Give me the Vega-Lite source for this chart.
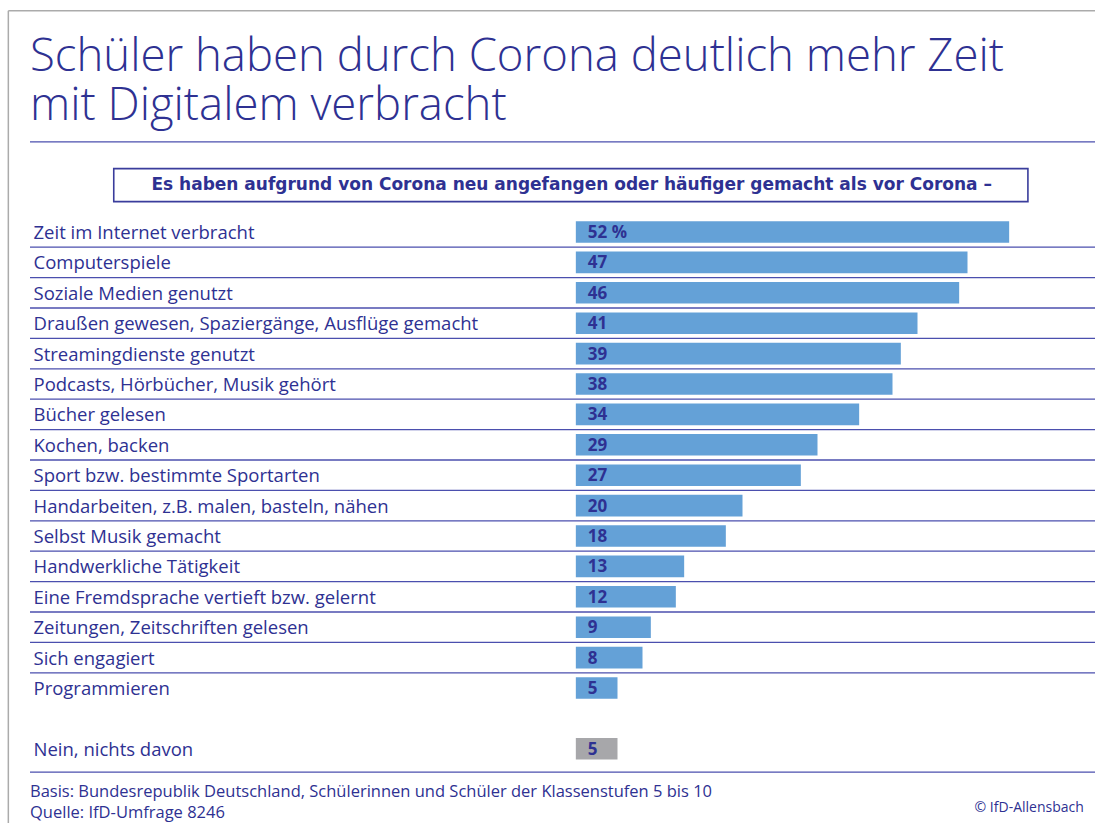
{
  "$schema": "https://vega.github.io/schema/vega-lite/v6.json",
  "width": 1065,
  "height": 668.8,
  "autosize": {"type": "none"},
  "padding": {"left": 30, "top": 125.6, "right": 0, "bottom": 28.6},
  "background": "white",
  "config": {"view": {"stroke": null}},
  "datasets": {
    "rows": [
      {"item": "Zeit im Internet verbracht", "value": 52, "label": "52 %", "group": "yes"},
      {"item": "Computerspiele", "value": 47, "label": "47", "group": "yes"},
      {"item": "Soziale Medien genutzt", "value": 46, "label": "46", "group": "yes"},
      {"item": "Draußen gewesen, Spaziergänge, Ausflüge gemacht", "value": 41, "label": "41", "group": "yes"},
      {"item": "Streamingdienste genutzt", "value": 39, "label": "39", "group": "yes"},
      {"item": "Podcasts, Hörbücher, Musik gehört", "value": 38, "label": "38", "group": "yes"},
      {"item": "Bücher gelesen", "value": 34, "label": "34", "group": "yes"},
      {"item": "Kochen, backen", "value": 29, "label": "29", "group": "yes"},
      {"item": "Sport bzw. bestimmte Sportarten", "value": 27, "label": "27", "group": "yes"},
      {"item": "Handarbeiten, z.B. malen, basteln, nähen", "value": 20, "label": "20", "group": "yes"},
      {"item": "Selbst Musik gemacht", "value": 18, "label": "18", "group": "yes"},
      {"item": "Handwerkliche Tätigkeit", "value": 13, "label": "13", "group": "yes"},
      {"item": "Eine Fremdsprache vertieft bzw. gelernt", "value": 12, "label": "12", "group": "yes"},
      {"item": "Zeitungen, Zeitschriften gelesen", "value": 9, "label": "9", "group": "yes"},
      {"item": "Sich engagiert", "value": 8, "label": "8", "group": "yes"},
      {"item": "Programmieren", "value": 5, "label": "5", "group": "yes"},
      {"item": "Nein, nichts davon", "value": 5, "label": "5", "group": "none"}
    ],
    "seps": [
      {"item": "Zeit im Internet verbracht"},
      {"item": "Computerspiele"},
      {"item": "Soziale Medien genutzt"},
      {"item": "Draußen gewesen, Spaziergänge, Ausflüge gemacht"},
      {"item": "Streamingdienste genutzt"},
      {"item": "Podcasts, Hörbücher, Musik gehört"},
      {"item": "Bücher gelesen"},
      {"item": "Kochen, backen"},
      {"item": "Sport bzw. bestimmte Sportarten"},
      {"item": "Handarbeiten, z.B. malen, basteln, nähen"},
      {"item": "Selbst Musik gemacht"},
      {"item": "Handwerkliche Tätigkeit"},
      {"item": "Eine Fremdsprache vertieft bzw. gelernt"},
      {"item": "Zeitungen, Zeitschriften gelesen"},
      {"item": "Sich engagiert"}
    ]
  },
  "layer": [
    {
      "data": {"name": "rows"},
      "mark": {"type": "bar", "height": {"band": 0.71}},
      "encoding": {
        "x": {"field": "value", "type": "quantitative", "scale": {"domain": [-65.5, 62.3], "nice": false, "zero": false}, "axis": null},
        "y": {
          "field": "item", "type": "nominal",
          "scale": {"domain": ["_t","_a","_b","Zeit im Internet verbracht","Computerspiele","Soziale Medien genutzt","Draußen gewesen, Spaziergänge, Ausflüge gemacht","Streamingdienste genutzt","Podcasts, Hörbücher, Musik gehört","Bücher gelesen","Kochen, backen","Sport bzw. bestimmte Sportarten","Handarbeiten, z.B. malen, basteln, nähen","Selbst Musik gemacht","Handwerkliche Tätigkeit","Eine Fremdsprache vertieft bzw. gelernt","Zeitungen, Zeitschriften gelesen","Sich engagiert","Programmieren","_gap","Nein, nichts davon","_f"], "paddingInner": 0, "paddingOuter": 0},
          "axis": {
            "orient": "left", "title": null, "domain": false, "ticks": false, "tickSize": 0, "grid": false,
            "labelPadding": -3, "labelAlign": "left", "labelBaseline": "middle",
            "labelFont": "Open Sans", "labelFontSize": 18.5, "labelColor": "#2e3192",
            "labelLimit": 700, "labelOverlap": false, "labelOffset": 1,
            "labelExpr": "indexof(datum.label, '_') === 0 ? '' : datum.label"
          }
        },
        "color": {"field": "group", "type": "nominal", "scale": {"domain": ["yes", "none"], "range": ["#64a1d7", "#a7a7aa"]}, "legend": null}
      }
    },
    {
      "data": {"values": [{}]},
      "mark": {"type": "rule", "color": "#ababab", "strokeWidth": 1.5, "clip": false, "yOffset": -130, "y2Offset": 80},
      "encoding": {
        "x": {"datum": -68.1, "type": "quantitative", "scale": {"domain": [-65.5, 62.3], "nice": false, "zero": false}, "axis": null},
        "y": {"datum": "_t", "type": "nominal", "scale": {"domain": ["_t","_a","_b","Zeit im Internet verbracht","Computerspiele","Soziale Medien genutzt","Draußen gewesen, Spaziergänge, Ausflüge gemacht","Streamingdienste genutzt","Podcasts, Hörbücher, Musik gehört","Bücher gelesen","Kochen, backen","Sport bzw. bestimmte Sportarten","Handarbeiten, z.B. malen, basteln, nähen","Selbst Musik gemacht","Handwerkliche Tätigkeit","Eine Fremdsprache vertieft bzw. gelernt","Zeitungen, Zeitschriften gelesen","Sich engagiert","Programmieren","_gap","Nein, nichts davon","_f"], "paddingInner": 0, "paddingOuter": 0}},
        "y2": {"datum": "_f"}
      }
    },
    {
      "data": {"values": [{}]},
      "mark": {"type": "rule", "color": "#ababab", "strokeWidth": 1.5, "clip": false, "yOffset": -130},
      "encoding": {
        "x": {"datum": -68.1, "type": "quantitative", "scale": {"domain": [-65.5, 62.3], "nice": false, "zero": false}, "axis": null},
        "x2": {"datum": 66},
        "y": {"datum": "_t", "type": "nominal", "scale": {"domain": ["_t","_a","_b","Zeit im Internet verbracht","Computerspiele","Soziale Medien genutzt","Draußen gewesen, Spaziergänge, Ausflüge gemacht","Streamingdienste genutzt","Podcasts, Hörbücher, Musik gehört","Bücher gelesen","Kochen, backen","Sport bzw. bestimmte Sportarten","Handarbeiten, z.B. malen, basteln, nähen","Selbst Musik gemacht","Handwerkliche Tätigkeit","Eine Fremdsprache vertieft bzw. gelernt","Zeitungen, Zeitschriften gelesen","Sich engagiert","Programmieren","_gap","Nein, nichts davon","_f"], "paddingInner": 0, "paddingOuter": 0}}
      }
    },
    {
      "data": {"values": [{}]},
      "mark": {"type": "text", "align": "left", "baseline": "alphabetic", "font": "Open Sans", "fontWeight": 300, "fontSize": 45.5, "lineHeight": 49, "color": "#2e3192", "yOffset": -70, "clip": false},
      "encoding": {
        "x": {"datum": -65.5, "type": "quantitative", "scale": {"domain": [-65.5, 62.3], "nice": false, "zero": false}, "axis": null},
        "y": {"datum": "_t", "type": "nominal", "scale": {"domain": ["_t","_a","_b","Zeit im Internet verbracht","Computerspiele","Soziale Medien genutzt","Draußen gewesen, Spaziergänge, Ausflüge gemacht","Streamingdienste genutzt","Podcasts, Hörbücher, Musik gehört","Bücher gelesen","Kochen, backen","Sport bzw. bestimmte Sportarten","Handarbeiten, z.B. malen, basteln, nähen","Selbst Musik gemacht","Handwerkliche Tätigkeit","Eine Fremdsprache vertieft bzw. gelernt","Zeitungen, Zeitschriften gelesen","Sich engagiert","Programmieren","_gap","Nein, nichts davon","_f"], "paddingInner": 0, "paddingOuter": 0}},
        "text": {"value": ["Schüler haben durch Corona deutlich mehr Zeit", "mit Digitalem verbracht"]}
      }
    },
    {
      "data": {"values": [{}]},
      "mark": {"type": "rule", "color": "#4b4fae", "strokeWidth": 1.3, "yOffset": 1},
      "encoding": {
        "y": {"datum": "_t", "type": "nominal", "scale": {"domain": ["_t","_a","_b","Zeit im Internet verbracht","Computerspiele","Soziale Medien genutzt","Draußen gewesen, Spaziergänge, Ausflüge gemacht","Streamingdienste genutzt","Podcasts, Hörbücher, Musik gehört","Bücher gelesen","Kochen, backen","Sport bzw. bestimmte Sportarten","Handarbeiten, z.B. malen, basteln, nähen","Selbst Musik gemacht","Handwerkliche Tätigkeit","Eine Fremdsprache vertieft bzw. gelernt","Zeitungen, Zeitschriften gelesen","Sich engagiert","Programmieren","_gap","Nein, nichts davon","_f"], "paddingInner": 0, "paddingOuter": 0}}
      }
    },
    {
      "data": {"values": [{}]},
      "mark": {"type": "bar", "fill": "white", "stroke": "#3a3d9c", "strokeWidth": 1.6, "height": 33, "yOffset": -16.5},
      "encoding": {
        "x": {"datum": -55.45, "type": "quantitative", "scale": {"domain": [-65.5, 62.3], "nice": false, "zero": false}, "axis": null},
        "x2": {"datum": 54.25},
        "y": {"datum": "_b", "type": "nominal", "scale": {"domain": ["_t","_a","_b","Zeit im Internet verbracht","Computerspiele","Soziale Medien genutzt","Draußen gewesen, Spaziergänge, Ausflüge gemacht","Streamingdienste genutzt","Podcasts, Hörbücher, Musik gehört","Bücher gelesen","Kochen, backen","Sport bzw. bestimmte Sportarten","Handarbeiten, z.B. malen, basteln, nähen","Selbst Musik gemacht","Handwerkliche Tätigkeit","Eine Fremdsprache vertieft bzw. gelernt","Zeitungen, Zeitschriften gelesen","Sich engagiert","Programmieren","_gap","Nein, nichts davon","_f"], "paddingInner": 0, "paddingOuter": 0}}
      }
    },
    {
      "data": {"values": [{}]},
      "mark": {"type": "text", "font": "DejaVu Sans", "fontWeight": "bold", "fontSize": 17, "color": "#2e3192", "align": "center", "baseline": "middle", "yOffset": -16.5},
      "encoding": {
        "x": {"datum": -0.5, "type": "quantitative", "scale": {"domain": [-65.5, 62.3], "nice": false, "zero": false}, "axis": null},
        "y": {"datum": "_b", "type": "nominal", "scale": {"domain": ["_t","_a","_b","Zeit im Internet verbracht","Computerspiele","Soziale Medien genutzt","Draußen gewesen, Spaziergänge, Ausflüge gemacht","Streamingdienste genutzt","Podcasts, Hörbücher, Musik gehört","Bücher gelesen","Kochen, backen","Sport bzw. bestimmte Sportarten","Handarbeiten, z.B. malen, basteln, nähen","Selbst Musik gemacht","Handwerkliche Tätigkeit","Eine Fremdsprache vertieft bzw. gelernt","Zeitungen, Zeitschriften gelesen","Sich engagiert","Programmieren","_gap","Nein, nichts davon","_f"], "paddingInner": 0, "paddingOuter": 0}},
        "text": {"value": "Es haben aufgrund von Corona neu angefangen oder häufiger gemacht als vor Corona –"}
      }
    },
    {
      "data": {"name": "seps"},
      "mark": {"type": "rule", "color": "#4b4fae", "strokeWidth": 1.3},
      "encoding": {
        "y": {"field": "item", "type": "nominal", "bandPosition": 1, "scale": {"domain": ["_t","_a","_b","Zeit im Internet verbracht","Computerspiele","Soziale Medien genutzt","Draußen gewesen, Spaziergänge, Ausflüge gemacht","Streamingdienste genutzt","Podcasts, Hörbücher, Musik gehört","Bücher gelesen","Kochen, backen","Sport bzw. bestimmte Sportarten","Handarbeiten, z.B. malen, basteln, nähen","Selbst Musik gemacht","Handwerkliche Tätigkeit","Eine Fremdsprache vertieft bzw. gelernt","Zeitungen, Zeitschriften gelesen","Sich engagiert","Programmieren","_gap","Nein, nichts davon","_f"], "paddingInner": 0, "paddingOuter": 0}}
      }
    },
    {
      "data": {"values": [{}]},
      "mark": {"type": "rule", "color": "#4b4fae", "strokeWidth": 1.3, "yOffset": -7},
      "encoding": {
        "y": {"datum": "_f", "type": "nominal", "scale": {"domain": ["_t","_a","_b","Zeit im Internet verbracht","Computerspiele","Soziale Medien genutzt","Draußen gewesen, Spaziergänge, Ausflüge gemacht","Streamingdienste genutzt","Podcasts, Hörbücher, Musik gehört","Bücher gelesen","Kochen, backen","Sport bzw. bestimmte Sportarten","Handarbeiten, z.B. malen, basteln, nähen","Selbst Musik gemacht","Handwerkliche Tätigkeit","Eine Fremdsprache vertieft bzw. gelernt","Zeitungen, Zeitschriften gelesen","Sich engagiert","Programmieren","_gap","Nein, nichts davon","_f"], "paddingInner": 0, "paddingOuter": 0}}
      }
    },
    {
      "data": {"name": "rows"},
      "mark": {"type": "text", "align": "left", "baseline": "middle", "dx": 12, "dy": 1, "font": "Open Sans", "fontWeight": "bold", "fontSize": 17, "color": "#2e3192"},
      "encoding": {
        "x": {"datum": 0, "type": "quantitative", "scale": {"domain": [-65.5, 62.3], "nice": false, "zero": false}, "axis": null},
        "y": {"field": "item", "type": "nominal", "scale": {"domain": ["_t","_a","_b","Zeit im Internet verbracht","Computerspiele","Soziale Medien genutzt","Draußen gewesen, Spaziergänge, Ausflüge gemacht","Streamingdienste genutzt","Podcasts, Hörbücher, Musik gehört","Bücher gelesen","Kochen, backen","Sport bzw. bestimmte Sportarten","Handarbeiten, z.B. malen, basteln, nähen","Selbst Musik gemacht","Handwerkliche Tätigkeit","Eine Fremdsprache vertieft bzw. gelernt","Zeitungen, Zeitschriften gelesen","Sich engagiert","Programmieren","_gap","Nein, nichts davon","_f"], "paddingInner": 0, "paddingOuter": 0}},
        "text": {"field": "label"}
      }
    },
    {
      "data": {"values": [{}]},
      "mark": {"type": "text", "align": "left", "baseline": "middle", "font": "Open Sans", "fontSize": 16.5, "color": "#2e3192", "yOffset": 12.5, "clip": false},
      "encoding": {
        "x": {"datum": -65.5, "type": "quantitative", "scale": {"domain": [-65.5, 62.3], "nice": false, "zero": false}, "axis": null},
        "y": {"datum": "_f", "type": "nominal", "scale": {"domain": ["_t","_a","_b","Zeit im Internet verbracht","Computerspiele","Soziale Medien genutzt","Draußen gewesen, Spaziergänge, Ausflüge gemacht","Streamingdienste genutzt","Podcasts, Hörbücher, Musik gehört","Bücher gelesen","Kochen, backen","Sport bzw. bestimmte Sportarten","Handarbeiten, z.B. malen, basteln, nähen","Selbst Musik gemacht","Handwerkliche Tätigkeit","Eine Fremdsprache vertieft bzw. gelernt","Zeitungen, Zeitschriften gelesen","Sich engagiert","Programmieren","_gap","Nein, nichts davon","_f"], "paddingInner": 0, "paddingOuter": 0}},
        "text": {"value": "Basis: Bundesrepublik Deutschland, Schülerinnen und Schüler der Klassenstufen 5 bis 10"}
      }
    },
    {
      "data": {"values": [{}]},
      "mark": {"type": "text", "align": "left", "baseline": "middle", "font": "Open Sans", "fontSize": 16.5, "color": "#2e3192", "yOffset": 34, "clip": false},
      "encoding": {
        "x": {"datum": -65.5, "type": "quantitative", "scale": {"domain": [-65.5, 62.3], "nice": false, "zero": false}, "axis": null},
        "y": {"datum": "_f", "type": "nominal", "scale": {"domain": ["_t","_a","_b","Zeit im Internet verbracht","Computerspiele","Soziale Medien genutzt","Draußen gewesen, Spaziergänge, Ausflüge gemacht","Streamingdienste genutzt","Podcasts, Hörbücher, Musik gehört","Bücher gelesen","Kochen, backen","Sport bzw. bestimmte Sportarten","Handarbeiten, z.B. malen, basteln, nähen","Selbst Musik gemacht","Handwerkliche Tätigkeit","Eine Fremdsprache vertieft bzw. gelernt","Zeitungen, Zeitschriften gelesen","Sich engagiert","Programmieren","_gap","Nein, nichts davon","_f"], "paddingInner": 0, "paddingOuter": 0}},
        "text": {"value": "Quelle: IfD-Umfrage 8246"}
      }
    },
    {
      "data": {"values": [{}]},
      "mark": {"type": "text", "align": "right", "baseline": "middle", "font": "Open Sans", "fontSize": 14, "color": "#2e3192", "yOffset": 29, "clip": false},
      "encoding": {
        "x": {"datum": 60.96, "type": "quantitative", "scale": {"domain": [-65.5, 62.3], "nice": false, "zero": false}, "axis": null},
        "y": {"datum": "_f", "type": "nominal", "scale": {"domain": ["_t","_a","_b","Zeit im Internet verbracht","Computerspiele","Soziale Medien genutzt","Draußen gewesen, Spaziergänge, Ausflüge gemacht","Streamingdienste genutzt","Podcasts, Hörbücher, Musik gehört","Bücher gelesen","Kochen, backen","Sport bzw. bestimmte Sportarten","Handarbeiten, z.B. malen, basteln, nähen","Selbst Musik gemacht","Handwerkliche Tätigkeit","Eine Fremdsprache vertieft bzw. gelernt","Zeitungen, Zeitschriften gelesen","Sich engagiert","Programmieren","_gap","Nein, nichts davon","_f"], "paddingInner": 0, "paddingOuter": 0}},
        "text": {"value": "© IfD-Allensbach"}
      }
    }
  ]
}
